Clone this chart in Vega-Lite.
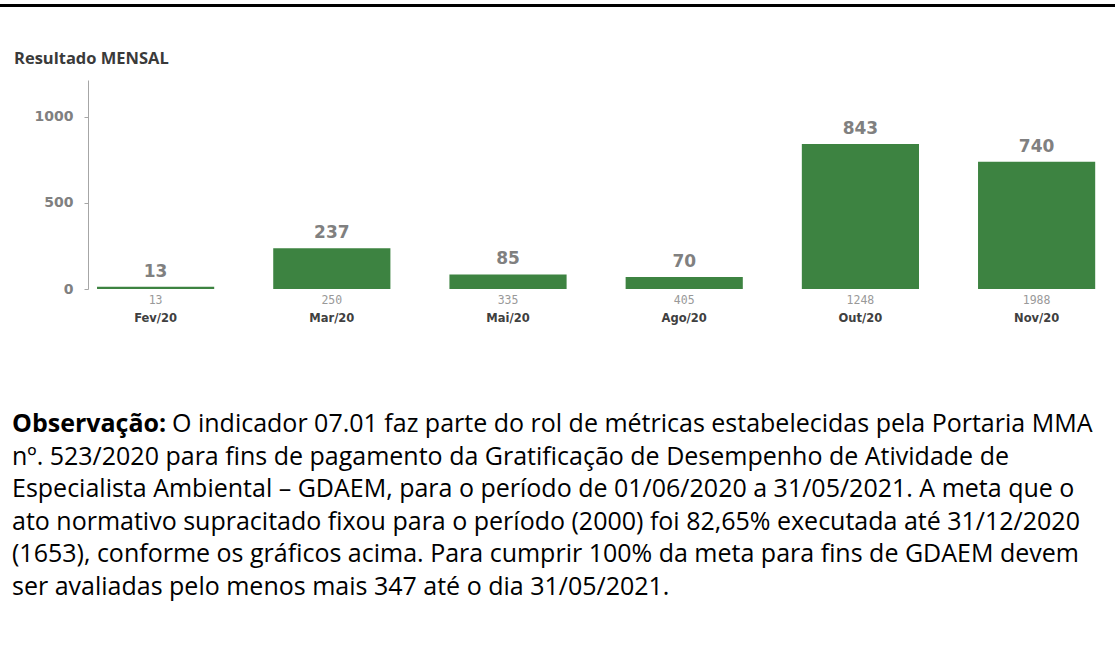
{
  "$schema": "https://vega.github.io/schema/vega-lite/v6.json",
  "padding": {"left": 0, "top": 4, "right": 0, "bottom": 0},
  "background": "white",
  "config": {"view": {"stroke": null}},
  "datasets": {
    "meses": [
      {"mes": "Fev/20", "valor": 13, "acumulado": 13},
      {"mes": "Mar/20", "valor": 237, "acumulado": 250},
      {"mes": "Mai/20", "valor": 85, "acumulado": 335},
      {"mes": "Ago/20", "valor": 70, "acumulado": 405},
      {"mes": "Out/20", "valor": 843, "acumulado": 1248},
      {"mes": "Nov/20", "valor": 740, "acumulado": 1988}
    ],
    "negrito": [{"linha": 1, "texto": "Observação:"}],
    "primeira": [{"linha": 1, "texto": "O indicador 07.01 faz parte do rol de métricas estabelecidas pela Portaria MMA"}],
    "linhas": [
      {"linha": 2, "texto": "nº. 523/2020 para fins de pagamento da Gratificação de Desempenho de Atividade de"},
      {"linha": 3, "texto": "Especialista Ambiental – GDAEM, para o período de 01/06/2020 a 31/05/2021. A meta que o"},
      {"linha": 4, "texto": "ato normativo supracitado fixou para o período (2000) foi 82,65% executada até 31/12/2020"},
      {"linha": 5, "texto": "(1653), conforme os gráficos acima. Para cumprir 100% da meta para fins de GDAEM devem"},
      {"linha": 6, "texto": "ser avaliadas pelo menos mais 347 até o dia 31/05/2021."}
    ]
  },
  "columns": 1,
  "align": "each",
  "bounds": "flush",
  "spacing": 73,
  "concat": [
    {
      "width": 1115,
      "height": 3,
      "data": {"values": []},
      "mark": {"type": "rule"},
      "encoding": {},
      "view": {"fill": "#000000", "stroke": null}
    },
    {
      "width": 1101,
      "height": 209,
      "data": {"name": "meses"},
      "title": {
        "text": "Resultado MENSAL",
        "anchor": "start",
        "frame": "group",
        "dx": 14,
        "dy": 16,
        "offset": 16,
        "baseline": "alphabetic",
        "font": "Open Sans",
        "fontSize": 16.5,
        "fontWeight": "bold",
        "color": "#3a3a3a"
      },
      "encoding": {
        "x": {
          "field": "mes",
          "type": "nominal",
          "sort": null,
          "scale": {"paddingInner": 0.335, "paddingOuter": 0.2918, "align": 0.9436},
          "axis": {
            "title": null,
            "domain": false,
            "ticks": false,
            "tickSize": 0,
            "labelPadding": 23,
            "labelAngle": 0,
            "labelFont": "DejaVu Sans",
            "labelFontSize": 11.5,
            "labelFontWeight": "bold",
            "labelColor": "#404040"
          }
        },
        "y": {
          "field": "valor",
          "type": "quantitative",
          "scale": {"domain": [0, 1215], "nice": false},
          "axis": {
            "title": null,
            "values": [0, 500, 1000],
            "format": "d",
            "grid": false,
            "offset": -88,
            "domainColor": "#a6a6a6",
            "tickColor": "#a6a6a6",
            "tickSize": 4,
            "labelPadding": 11,
            "labelFont": "DejaVu Sans",
            "labelFontSize": 14,
            "labelFontWeight": "bold",
            "labelColor": "#808080"
          }
        }
      },
      "layer": [
        {"mark": {"type": "bar", "color": "#3d8341"}},
        {
          "mark": {"type": "text", "dy": -10, "baseline": "alphabetic", "font": "DejaVu Sans", "fontSize": 17, "fontWeight": "bold", "color": "#808080"},
          "encoding": {"text": {"field": "valor", "type": "quantitative"}}
        },
        {
          "mark": {"type": "text", "dy": 15, "baseline": "alphabetic", "font": "DejaVu Sans Mono", "fontSize": 11.5, "color": "#999999"},
          "encoding": {"y": {"datum": 0}, "text": {"field": "acumulado", "type": "quantitative"}}
        }
      ]
    },
    {
      "width": 1115,
      "height": 260,
      "encoding": {
        "y": {"field": "linha", "type": "quantitative", "scale": {"domain": [-1.15, 6.83], "reverse": true, "nice": false, "zero": false}, "axis": null},
        "x": {"value": 0},
        "text": {"field": "texto", "type": "nominal"}
      },
      "layer": [
        {"data": {"name": "negrito"}, "mark": {"type": "text", "align": "left", "baseline": "alphabetic", "dx": 12, "font": "Open Sans", "fontSize": 25, "fontWeight": "bold", "color": "#000000"}},
        {"data": {"name": "primeira"}, "mark": {"type": "text", "align": "left", "baseline": "alphabetic", "dx": 172, "font": "Open Sans", "fontSize": 25, "color": "#000000"}},
        {"data": {"name": "linhas"}, "mark": {"type": "text", "align": "left", "baseline": "alphabetic", "dx": 12, "font": "Open Sans", "fontSize": 25, "color": "#000000"}}
      ]
    }
  ]
}
